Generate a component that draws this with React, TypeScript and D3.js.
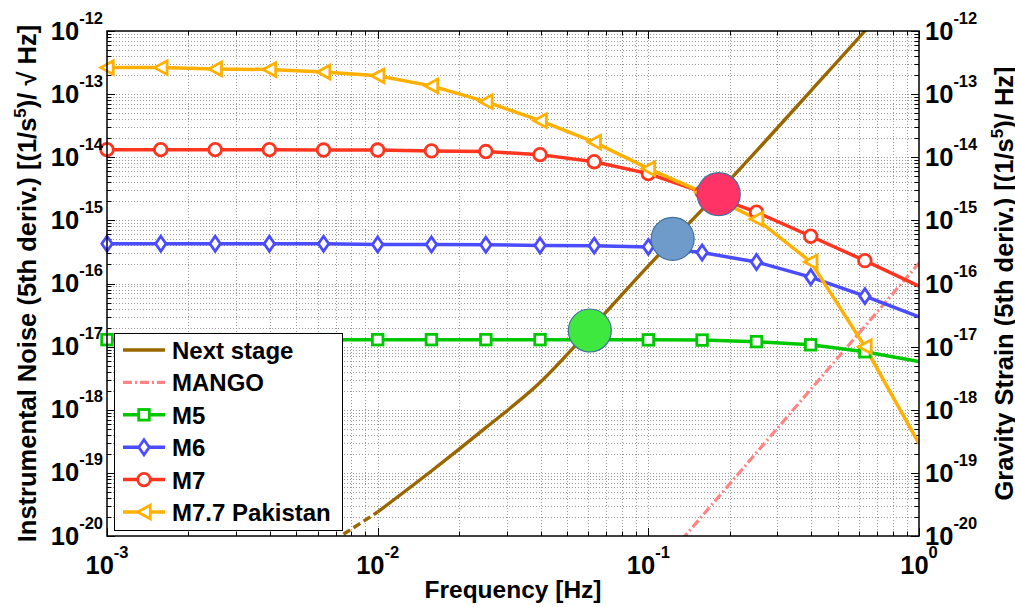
import { useEffect, useRef } from "react";
import * as d3 from "d3";

// frequencies of the marked points (Hz)
const FREQ = [0.001, 0.00158, 0.00251, 0.00398, 0.00631, 0.01, 0.0158, 0.0251, 0.0398, 0.0631, 0.1, 0.158, 0.251, 0.398, 0.631, 1];
const M5 = [1.29e-17, 1.29e-17, 1.29e-17, 1.29e-17, 1.29e-17, 1.29e-17, 1.29e-17, 1.29e-17, 1.29e-17, 1.28e-17, 1.28e-17, 1.27e-17, 1.2e-17, 1.07e-17, 8.3e-18, 5.8e-18];
const M6 = [4.27e-16, 4.27e-16, 4.27e-16, 4.27e-16, 4.27e-16, 4.15e-16, 4.15e-16, 4.1e-16, 4.0e-16, 3.98e-16, 3.8e-16, 3.09e-16, 2.19e-16, 1.26e-16, 6.3e-17, 2.95e-17];
const M7 = [1.32e-14, 1.32e-14, 1.32e-14, 1.32e-14, 1.3e-14, 1.3e-14, 1.26e-14, 1.23e-14, 1.1e-14, 8.5e-15, 5.5e-15, 2.8e-15, 1.35e-15, 5.6e-16, 2.3e-16, 9.1e-17];
const M77 = [2.63e-13, 2.63e-13, 2.51e-13, 2.45e-13, 2.24e-13, 1.95e-13, 1.35e-13, 7.6e-14, 3.8e-14, 1.74e-14, 6.6e-15, 2.8e-15, 1.05e-15, 2.2e-16, 1.0e-17, 2.9e-19];

const NEXT_F = [0.0063, 0.01, 0.0158, 0.0251, 0.0398, 0.0631, 0.1, 0.158, 0.251, 0.398, 0.631, 0.71];
const NEXT_V = [6.6e-21, 2.4e-20, 1.07e-19, 5.2e-19, 2.7e-18, 2.2e-17, 1.9e-16, 1.48e-15, 1.26e-14, 1.12e-13, 1.0e-12, 1.78e-12];

const MANGO_F = [0.1, 1];
const MANGO_V = [2.1e-21, 2.1e-16];

const CROSS_F = [0.0608, 0.123, 0.182];
const CROSS_V = [1.8e-17, 5.1e-16, 2.6e-15];
const CROSS_FILL = ["#3FE83F", "#6F9BCB", "#FF3366"];

const X_EXP = [-3, -2, -1, 0];
const Y_EXP = [-20, -19, -18, -17, -16, -15, -14, -13, -12];

const LEGEND = ["Next stage", "MANGO", "M5", "M6", "M7", "M7.7 Pakistan"];

const W = 1015, H = 607;
const PL = 107, PR = 919, PT = 31, PB = 536;
const FONT = "'Liberation Sans', Arial, Helvetica, sans-serif";

type Marker = "square" | "diamond" | "circle" | "tri";
const SERIES: { name: string; vals: number[]; color: string; marker: Marker }[] = [
  { name: "M5", vals: M5, color: "#00C800", marker: "square" },
  { name: "M6", vals: M6, color: "#4B4BFF", marker: "diamond" },
  { name: "M7", vals: M7, color: "#FF3520", marker: "circle" },
  { name: "M7.7 Pakistan", vals: M77, color: "#FFB000", marker: "tri" },
];

function drawMarker(g: d3.Selection<SVGGElement, unknown, null, undefined>, kind: Marker, cx: number, cy: number, color: string) {
  const base = (s: any) => s.attr("fill", "white").attr("stroke", color).attr("stroke-width", 2.8);
  if (kind === "circle") base(g.append("circle").attr("cx", cx).attr("cy", cy).attr("r", 6.3));
  else if (kind === "square") base(g.append("rect").attr("x", cx - 5.3).attr("y", cy - 5.3).attr("width", 10.6).attr("height", 10.6));
  else if (kind === "diamond") base(g.append("path").attr("d", `M${cx},${cy - 7.5}L${cx + 5.2},${cy}L${cx},${cy + 7.5}L${cx - 5.2},${cy}Z`));
  else base(g.append("path").attr("d", `M${cx - 6.3},${cy}L${cx + 6.3},${cy - 6.8}L${cx + 6.3},${cy + 6.8}Z`));
}

export default function App() {
  const ref = useRef<SVGSVGElement>(null);

  useEffect(() => {
    if (!ref.current) return;
    const svg = d3.select(ref.current);
    svg.selectAll("*").remove();

    const x = d3.scaleLog().domain([1e-3, 1]).range([PL, PR]);
    const y = d3.scaleLog().domain([1e-20, 1e-12]).range([PB, PT]);
    const isMajor = (t: number) => Math.abs(Math.log10(t) - Math.round(Math.log10(t))) < 1e-6;

    svg.append("rect").attr("width", W).attr("height", H).attr("fill", "white");
    svg.append("defs").append("clipPath").attr("id", "plotclip")
      .append("rect").attr("x", PL).attr("y", PT).attr("width", PR - PL).attr("height", PB - PT);

    // dotted grid
    const grid = svg.append("g").attr("stroke", "#9a9a9a").attr("stroke-width", 1).attr("stroke-dasharray", "1,2");
    x.ticks().forEach(t => {
      const px = Math.round(x(t)) + 0.5;
      if (px <= PL + 1 || px >= PR - 1) return;
      grid.append("line").attr("x1", px).attr("x2", px).attr("y1", PT).attr("y2", PB);
    });
    y.ticks().forEach(t => {
      const py = Math.round(y(t)) + 0.5;
      if (py <= PT + 1 || py >= PB - 1) return;
      grid.append("line").attr("x1", PL).attr("x2", PR).attr("y1", py).attr("y2", py);
    });

    // ticks (inward, all four sides)
    const tk = svg.append("g").attr("stroke", "black").attr("stroke-width", 1);
    x.ticks().forEach(t => {
      const px = Math.round(x(t)) + 0.5, len = isMajor(t) ? 8 : 4.5;
      tk.append("line").attr("x1", px).attr("x2", px).attr("y1", PB).attr("y2", PB - len);
      tk.append("line").attr("x1", px).attr("x2", px).attr("y1", PT).attr("y2", PT + len);
    });
    y.ticks().forEach(t => {
      const py = Math.round(y(t)) + 0.5, len = isMajor(t) ? 8 : 4.5;
      tk.append("line").attr("x1", PL).attr("x2", PL + len).attr("y1", py).attr("y2", py);
      tk.append("line").attr("x1", PR).attr("x2", PR - len).attr("y1", py).attr("y2", py);
    });

    const plot = svg.append("g").attr("clip-path", "url(#plotclip)");

    // Next stage: dashed below 10 mHz, solid above
    const lo = NEXT_V.filter((_, i) => NEXT_F[i] <= 0.01);
    const loLine = d3.line<number>().x((_, i) => x(NEXT_F[i])).y(d => y(d));
    plot.append("path").attr("d", loLine(lo)!).attr("fill", "none").attr("stroke", "#996600").attr("stroke-width", 3.4).attr("stroke-dasharray", "8,4");
    const hiIdx = NEXT_F.map((f, i) => (f >= 0.01 ? i : -1)).filter(i => i >= 0);
    const hiLine = d3.line<number>().x(i => x(NEXT_F[i])).y(i => y(NEXT_V[i])).curve(d3.curveMonotoneX);
    plot.append("path").attr("d", hiLine(hiIdx)!).attr("fill", "none").attr("stroke", "#996600").attr("stroke-width", 3.4);

    // MANGO
    const mLine = d3.line<number>().x((_, i) => x(MANGO_F[i])).y(d => y(d));
    plot.append("path").attr("d", mLine(MANGO_V)!).attr("fill", "none").attr("stroke", "#FF8585")
      .attr("stroke-width", 3.2).attr("stroke-dasharray", "9,3,2,3");

    // measured series
    const line = d3.line<number>().x((_, i) => x(FREQ[i])).y(d => y(d));
    SERIES.forEach(s => {
      plot.append("path").attr("d", line(s.vals)!).attr("fill", "none").attr("stroke", s.color).attr("stroke-width", 3.5);
      const mg = svg.append("g");
      s.vals.forEach((v, i) => {
        if (FREQ[i] >= 1) return;
        drawMarker(mg, s.marker, x(FREQ[i]), y(v), s.color);
      });
    });

    // intersection highlights
    CROSS_F.forEach((f, i) => {
      svg.append("circle").attr("cx", x(f)).attr("cy", y(CROSS_V[i])).attr("r", 21.5)
        .attr("fill", CROSS_FILL[i]).attr("stroke", "#41719C").attr("stroke-width", 1.2);
    });

    // frame
    svg.append("rect").attr("x", PL).attr("y", PT).attr("width", PR - PL).attr("height", PB - PT)
      .attr("fill", "none").attr("stroke", "black").attr("stroke-width", 1.5);

    // tick labels
    const lab = svg.append("g").attr("font-family", FONT).attr("font-weight", "bold").attr("fill", "black");
    const pow = (px: number, py: number, e: number, anchor: string) => {
      const t = lab.append("text").attr("x", px).attr("y", py).attr("text-anchor", anchor).attr("font-size", 25.5);
      t.append("tspan").text("10");
      t.append("tspan").attr("dy", -16).attr("font-size", 16.5).text(String(e));
    };
    Y_EXP.forEach(e => {
      const py = y(Math.pow(10, e));
      pow(103, py + 8.5, e, "end");
      pow(925, py + 9, e, "start");
    });
    X_EXP.forEach(e => pow(x(Math.pow(10, e)), 574, e, "middle"));

    // axis titles
    lab.append("text").attr("x", (PL + PR) / 2).attr("y", 598).attr("text-anchor", "middle").attr("font-size", 24.5).text("Frequency [Hz]");
    const yTitle = (px: number, pre: string, post: string) => {
      const t = lab.append("text").attr("transform", `translate(${px},${(PT + PB) / 2}) rotate(-90)`)
        .attr("text-anchor", "middle").attr("font-size", 25.5);
      t.append("tspan").text(pre);
      t.append("tspan").attr("dy", -10).attr("font-size", 17).text("5");
      t.append("tspan").attr("dy", 10).text(post);
    };
    yTitle(36, "Instrumental Noise (5th deriv.) [(1/s", ")/ \u221A Hz]");
    yTitle(1013, "Gravity Strain (5th deriv.) [(1/s", ")/ Hz]");

    // legend
    const lg = svg.append("g");
    lg.append("rect").attr("x", 114.5).attr("y", 333.5).attr("width", 228).attr("height", 197)
      .attr("fill", "white").attr("stroke", "black").attr("stroke-width", 1);
    LEGEND.forEach((name, i) => {
      const cy = 350 + i * 32.4;
      if (name === "Next stage") {
        lg.append("line").attr("x1", 123).attr("x2", 165).attr("y1", cy).attr("y2", cy).attr("stroke", "#996600").attr("stroke-width", 3.4);
      } else if (name === "MANGO") {
        lg.append("line").attr("x1", 123).attr("x2", 165).attr("y1", cy).attr("y2", cy).attr("stroke", "#FF8585")
          .attr("stroke-width", 3.2).attr("stroke-dasharray", "9,3,2,3");
      } else {
        const s = SERIES.find(d => d.name === name)!;
        lg.append("line").attr("x1", 123).attr("x2", 165).attr("y1", cy).attr("y2", cy).attr("stroke", s.color).attr("stroke-width", 3.5);
        drawMarker(lg, s.marker, 144, cy, s.color);
      }
      lg.append("text").attr("x", 172).attr("y", cy + 9).attr("font-family", FONT).attr("font-weight", "bold")
        .attr("font-size", 24).text(name);
    });
  }, []);

  return (
    <div style={{ position: "absolute", left: 0, top: 0 }}>
      <svg ref={ref} width={W} height={H} style={{ display: "block" }} />
    </div>
  );
}
